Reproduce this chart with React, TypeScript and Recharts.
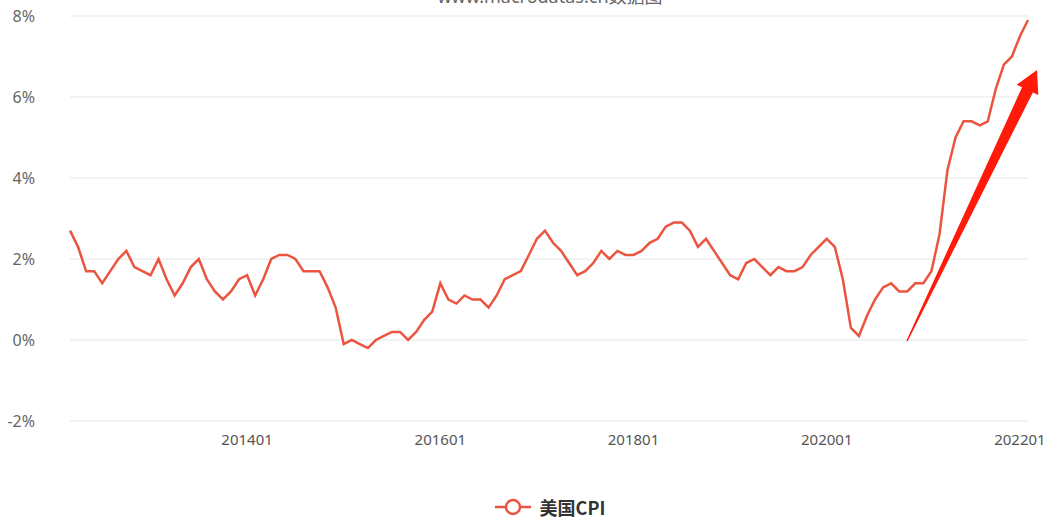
import { LineChart, Line, XAxis, YAxis, CartesianGrid, Legend } from "recharts"

// US CPI YoY (%), monthly from 2012-03 to 2022-02
const START_YEAR = 2012
const START_MONTH = 3

const cpiValues = [
  2.7, 2.3, 1.7, 1.7, 1.4, 1.7, 2.0, 2.2, 1.8, 1.7,
  1.6, 2.0, 1.5, 1.1, 1.4, 1.8, 2.0, 1.5, 1.2, 1.0, 1.2, 1.5,
  1.6, 1.1, 1.5, 2.0, 2.1, 2.1, 2.0, 1.7, 1.7, 1.7, 1.3, 0.8,
  -0.1, 0.0, -0.1, -0.2, 0.0, 0.1, 0.2, 0.2, 0.0, 0.2, 0.5, 0.7,
  1.4, 1.0, 0.9, 1.1, 1.0, 1.0, 0.8, 1.1, 1.5, 1.6, 1.7, 2.1,
  2.5, 2.7, 2.4, 2.2, 1.9, 1.6, 1.7, 1.9, 2.2, 2.0, 2.2, 2.1,
  2.1, 2.2, 2.4, 2.5, 2.8, 2.9, 2.9, 2.7, 2.3, 2.5, 2.2, 1.9,
  1.6, 1.5, 1.9, 2.0, 1.8, 1.6, 1.8, 1.7, 1.7, 1.8, 2.1, 2.3,
  2.5, 2.3, 1.5, 0.3, 0.1, 0.6, 1.0, 1.3, 1.4, 1.2, 1.2, 1.4,
  1.4, 1.7, 2.6, 4.2, 5.0, 5.4, 5.4, 5.3, 5.4, 6.2, 6.8, 7.0,
  7.5, 7.9,
]

const months = cpiValues.map((_, i) => {
  const m = START_MONTH - 1 + i
  const y = START_YEAR + Math.floor(m / 12)
  const mm = (m % 12) + 1
  return `${y}${mm < 10 ? "0" + mm : mm}`
})

const xTicks = ["201401", "201601", "201801", "202001", "202201"]
const yTicks = [-2, 0, 2, 4, 6, 8]

const data = months.map((month, i) => ({ month, cpi: cpiValues[i] }))

const LINE_COLOR = "#eb5540"
const FONT = "'Noto Sans', 'Noto Sans CJK SC', sans-serif"

function LegendContent() {
  return (
    <div
      style={{
        display: "flex",
        justifyContent: "center",
        alignItems: "center",
        height: 22,
        paddingLeft: 72,
      }}
    >
      <svg width={36} height={20}>
        <line x1={0} y1={10} x2={36} y2={10} stroke={LINE_COLOR} strokeWidth={2.5} />
        <circle cx={18} cy={10} r={7} fill="#fff" stroke={LINE_COLOR} strokeWidth={2.5} />
      </svg>
      <span
        style={{
          marginLeft: 9,
          fontFamily: "'Noto Sans CJK SC', sans-serif",
          fontWeight: 700,
          fontSize: 18,
          color: "#333",
        }}
      >
        美国CPI
      </span>
    </div>
  )
}

// red trend arrow annotation (pixel overlay)
function TrendArrow() {
  const tail = [907, 341]
  const tip = [1037, 70]
  const dx = tip[0] - tail[0]
  const dy = tip[1] - tail[1]
  const len = Math.hypot(dx, dy)
  const ux = dx / len
  const uy = dy / len
  const nx = -uy
  const ny = ux
  const headLen = 22
  const headHalf = 12
  const shaftHalf = 6
  const tailHalf = 0.7
  const bx = tip[0] - ux * headLen
  const by = tip[1] - uy * headLen
  const pts = [
    [tail[0] + nx * tailHalf, tail[1] + ny * tailHalf],
    [bx + nx * shaftHalf, by + ny * shaftHalf],
    [bx + nx * headHalf, by + ny * headHalf],
    tip,
    [bx - nx * headHalf, by - ny * headHalf],
    [bx - nx * shaftHalf, by - ny * shaftHalf],
    [tail[0] - nx * tailHalf, tail[1] - ny * tailHalf],
  ]
  return (
    <svg
      width={1050}
      height={526}
      style={{ position: "absolute", left: 0, top: 0, pointerEvents: "none" }}
    >
      <polygon points={pts.map((p) => p.join(",")).join(" ")} fill="#ff1a0a" />
    </svg>
  )
}

export default function App() {
  return (
    <div style={{ position: "absolute", left: 0, top: 0, width: 1050, height: 526, overflow: "hidden", background: "#fff" }}>
      <div
        style={{
          position: "absolute",
          top: -18,
          left: 0,
          width: 1100,
          textAlign: "center",
          fontFamily: FONT,
          fontSize: 18,
          color: "#666",
        }}
      >
        www.macrodatas.cn数据图
      </div>
      <LineChart
        width={1050}
        height={526}
        data={data}
        margin={{ top: 16, right: 22, bottom: 8, left: 0 }}
      >
        <CartesianGrid vertical={false} stroke="#e6e6e6" strokeWidth={1} />
        <XAxis
          dataKey="month"
          ticks={xTicks}
          interval={0}
          axisLine={false}
          tickLine={false}
          tickSize={0}
          tickMargin={13}
          height={75}
          tick={{ fill: "#555", fontSize: 15, fontFamily: FONT }}
        />
        <YAxis
          domain={[-2, 8]}
          ticks={yTicks}
          width={70}
          axisLine={false}
          tickLine={false}
          tickSize={0}
          tickMargin={35}
          tickFormatter={(v) => `${v}%`}
          tick={{ fill: "#666", fontSize: 16, fontFamily: FONT }}
        />
        <Legend verticalAlign="bottom" content={<LegendContent />} />
        <Line
          type="linear"
          dataKey="cpi"
          name="美国CPI"
          stroke={LINE_COLOR}
          strokeWidth={2.5}
          dot={false}
          activeDot={false}
          isAnimationActive={false}
        />
      </LineChart>
      <TrendArrow />
    </div>
  )
}
